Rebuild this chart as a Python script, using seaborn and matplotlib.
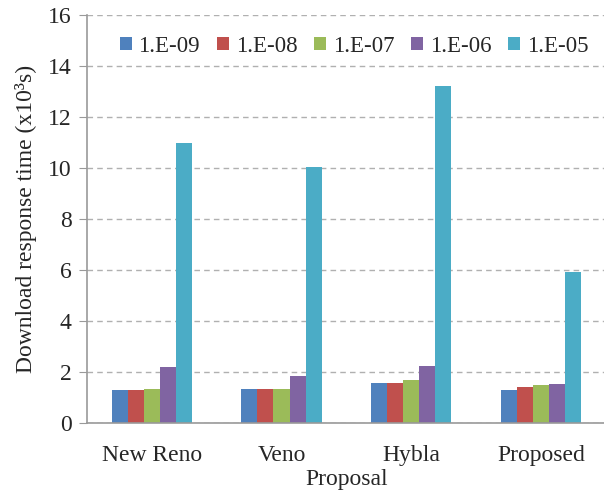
import pandas as pd
import numpy as np
import matplotlib.pyplot as plt
import seaborn as sns

# data
proposals = ["New Reno", "Veno", "Hybla", "Proposed"]
loss_rates = ["1.E-09", "1.E-08", "1.E-07", "1.E-06", "1.E-05"]
resp_1e09 = [1.29, 1.35, 1.58, 1.29]
resp_1e08 = [1.30, 1.35, 1.58, 1.40]
resp_1e07 = [1.35, 1.35, 1.67, 1.49]
resp_1e06 = [2.20, 1.85, 2.22, 1.55]
resp_1e05 = [10.98, 10.04, 13.20, 5.94]

colors = ["#4F81BD", "#C0504D", "#9BBB59", "#8064A2", "#4BACC6"]

rows = []
for rate, vals in zip(loss_rates, [resp_1e09, resp_1e08, resp_1e07, resp_1e06, resp_1e05]):
    for p, v in zip(proposals, vals):
        rows.append({"Proposal": p, "rate": rate, "value": v})
df = pd.DataFrame(rows)

sns.set_style("white")
plt.rcParams["font.family"] = ["Liberation Serif", "DejaVu Serif"]

fig = plt.figure(figsize=(6.04, 4.96), dpi=100)
ax = fig.add_axes([0.144, 0.147, 0.859, 0.823])

sns.barplot(data=df, x="Proposal", y="value", hue="rate", order=proposals,
            hue_order=loss_rates, palette=colors, width=0.62, saturation=1,
            edgecolor="none", ax=ax)

ax.set_ylim(0, 16)
ax.set_yticks(np.arange(0, 17, 2))
ax.set_xlim(-0.5, 3.5)
ax.yaxis.grid(True, linestyle=(0, (4, 3)), color="#b0b0b0", linewidth=1)
ax.set_axisbelow(True)

for s in ["top", "right"]:
    ax.spines[s].set_visible(False)
for s in ["left", "bottom"]:
    ax.spines[s].set_color("#999999")
    ax.spines[s].set_linewidth(1.2)

ax.tick_params(axis="y", direction="out", length=6, color="#999999", labelsize=17, left=True, pad=5)
ax.tick_params(axis="x", length=0, labelsize=17, pad=16)

ax.set_xlabel("Proposal", fontsize=17, labelpad=2)
ax.set_ylabel("Download response time (x10³s)", fontsize=17, labelpad=8)

ax.legend(loc="upper center", ncol=5, frameon=False, fontsize=16.5,
          handlelength=0.5, handleheight=0.5, handletextpad=0.3,
          columnspacing=0.75, bbox_to_anchor=(0.515, 1.0))

fig.savefig("out.png", dpi=100)
